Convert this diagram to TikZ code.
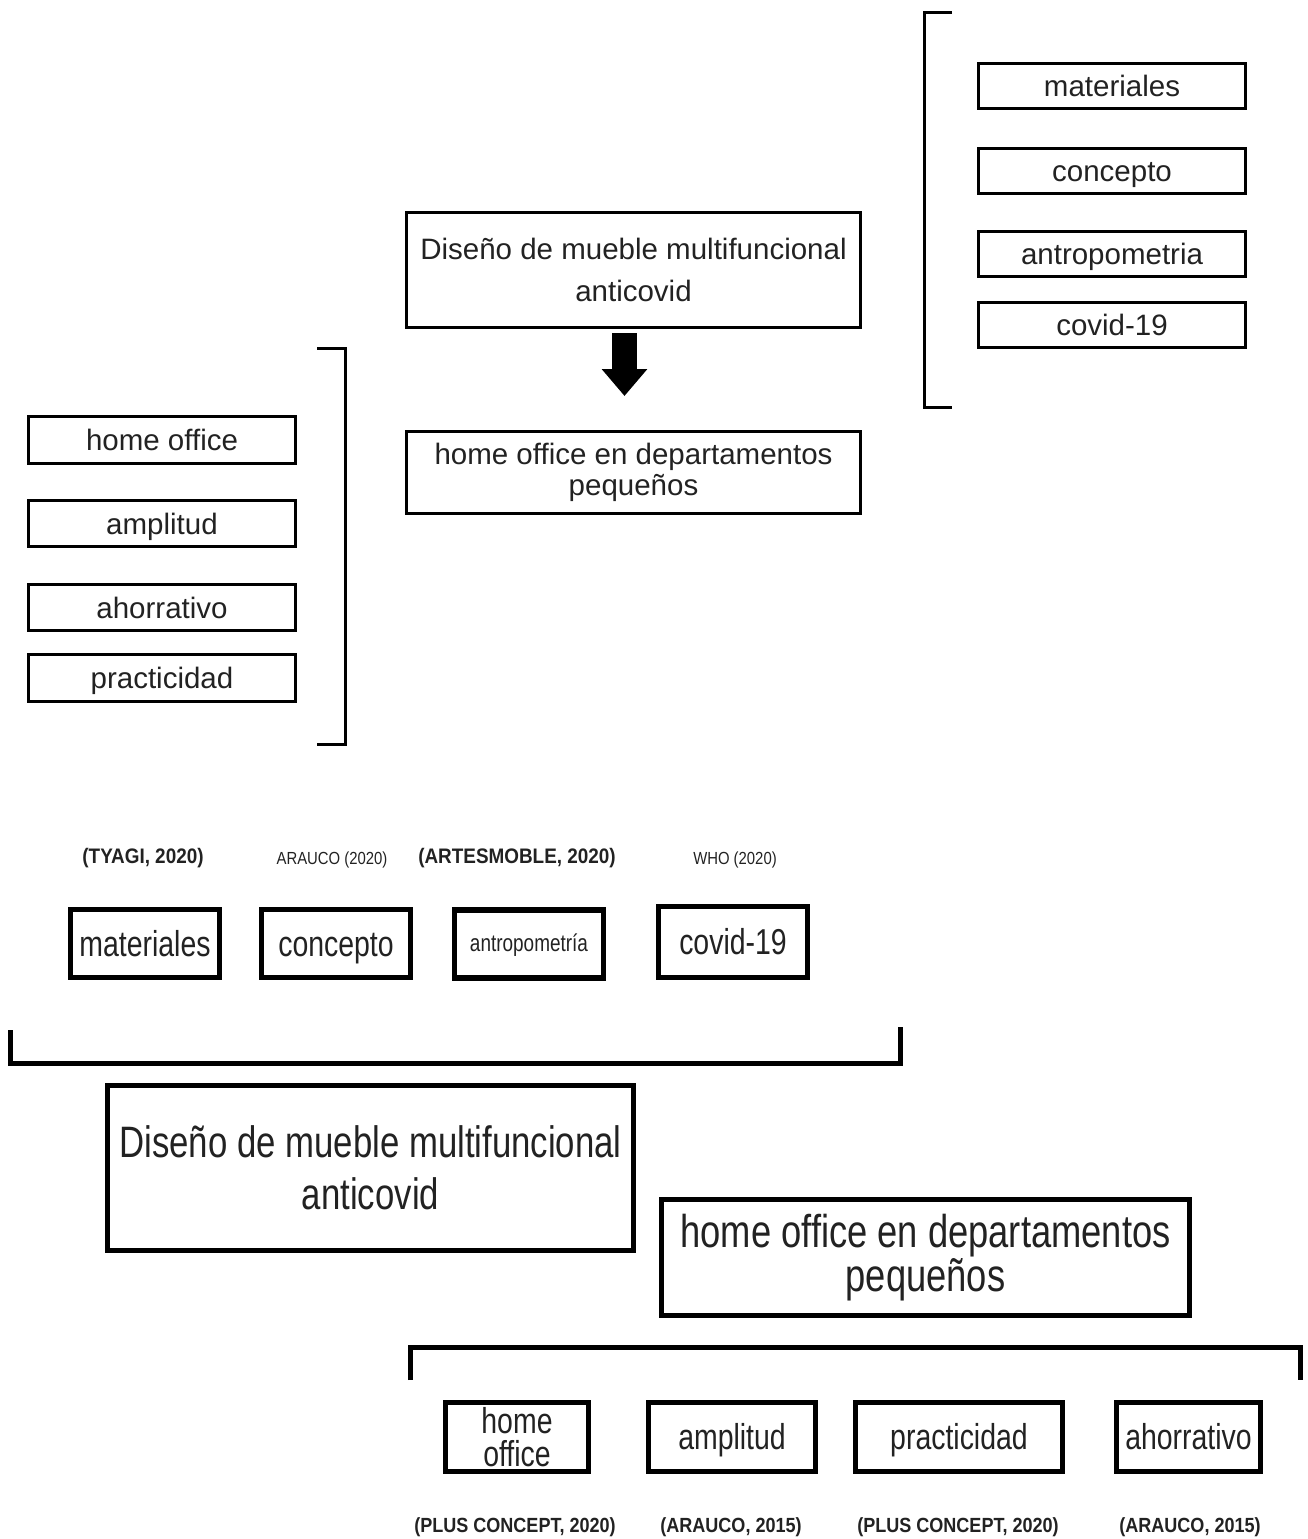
\documentclass[tikz,border=0pt]{standalone}
\usepackage{fontspec}
\setmainfont{Liberation Sans}
\newfontfamily\condA[FakeStretch=0.79]{Liberation Sans}
\newfontfamily\condB[FakeStretch=0.9]{Liberation Sans}
\newfontfamily\condC[FakeStretch=0.85]{Liberation Sans}
\newfontfamily\condD[FakeStretch=0.88]{Liberation Sans}
\usetikzlibrary{arrows.meta}
\definecolor{txt}{HTML}{222222}
\begin{document}
\begin{tikzpicture}[x=1pt,y=-1pt,
  thinbox/.style={draw=black, line width=3pt, text=txt, inner sep=0pt, align=center,
    font=\fontsize{29.5}{31}\selectfont},
  thickbox/.style={draw=black, line width=5.5pt, text=txt, inner sep=0pt, align=center,
    font=\condA\fontsize{36}{33}\selectfont},
  onethin/.style={text height=27pt, text depth=6pt},
  onethick/.style={text height=32pt, text depth=7pt},
  bigbox/.style={draw=black, line width=5pt, text=txt, inner sep=0pt, align=center},
  reflab/.style={text=txt, inner sep=0pt, font=\condB\bfseries\fontsize{21}{22}\selectfont},
  reflight/.style={text=txt, inner sep=0pt, font=\condC\fontsize{17.5}{18}\selectfont},
  botlab/.style={text=txt, inner sep=0pt, font=\condD\bfseries\fontsize{20.5}{22}\selectfont},
  brk/.style={draw=black, line width=3pt},
  brkthick/.style={draw=black, line width=5pt}]
\useasboundingbox (0,0) rectangle (1307,1539);

% ---- top right list ----
\draw[brk] (952,12) -- (924,12) -- (924,407) -- (952,407);
\node[thinbox, onethin, minimum width=267pt, minimum height=45pt] (tr1) at (1112,86) {materiales};
\node[thinbox, onethin, minimum width=267pt, minimum height=45pt] (tr2) at (1112,170.5) {concepto};
\node[thinbox, onethin, minimum width=267pt, minimum height=45pt] (tr3) at (1112,253.5) {antropometria};
\node[thinbox, onethin, minimum width=267pt, minimum height=45pt] (tr4) at (1112,325) {covid-19};

% ---- centre ----
\node[thinbox, minimum width=454pt, minimum height=115pt,
      font=\fontsize{29.5}{42}\selectfont] (c1) at (633.5,270)
      {Diseño de mueble multifuncional\\anticovid};
\node[thinbox, minimum width=454pt, minimum height=82pt,
      font=\fontsize{29.5}{31}\selectfont] (c2) at (633.5,472.5)
      {home office en departamentos\\pequeños};
\draw[line width=25pt, -{Triangle[width=44pt,length=27pt]}, shorten <=4pt, shorten >=34pt]
  ([xshift=-9pt]c1.south) -- ([xshift=-9pt]c2.north);

% ---- left list ----
\draw[brk] (317,348) -- (345,348) -- (345,744) -- (317,744);
\node[thinbox, onethin, minimum width=267pt, minimum height=47pt] (l1) at (162,440) {home office};
\node[thinbox, onethin, minimum width=267pt, minimum height=46pt] (l2) at (162,523.5) {amplitud};
\node[thinbox, onethin, minimum width=267pt, minimum height=46pt] (l3) at (162,607.5) {ahorrativo};
\node[thinbox, onethin, minimum width=267pt, minimum height=47pt] (l4) at (162,678) {practicidad};

% ---- middle row ----
\node[reflab] (r1) at (143,858) {(TYAGI, 2020)};
\node[reflight] (r2) at (332,860) {ARAUCO (2020)};
\node[reflab] (r3) at (517,858) {(ARTESMOBLE, 2020)};
\node[reflight] (r4) at (735,860) {WHO (2020)};
\node[thickbox, onethick, minimum width=149pt, minimum height=68pt] (m1) at (145,943.5) {materiales};
\node[thickbox, onethick, minimum width=149pt, minimum height=68pt] (m2) at (336,943.5) {concepto};
\node[thickbox, minimum width=149pt, minimum height=68pt, text height=19pt, text depth=5pt,
      font=\condA\fontsize{24}{26}\selectfont] (m3) at (529,944) {antropometría};
\node[thickbox, onethick, minimum width=149pt, minimum height=71pt] (m4) at (733,942) {covid-19};
\draw[brkthick] (10,1030) -- (10,1063) -- (900,1063) -- (900,1027);

% ---- big boxes ----
\node[bigbox, minimum width=526pt, minimum height=165pt,
      font=\condA\fontsize{44}{52}\selectfont] (b1) at (370.5,1168)
      {Diseño de mueble multifuncional\\anticovid};
\node[bigbox, minimum width=528pt, minimum height=116pt,
      font=\condA\fontsize{46}{42}\selectfont] (b2) at (925.5,1257.5)
      {home office en departamentos\\pequeños};

% ---- bottom row ----
\draw[brkthick] (410,1380) -- (410,1347) -- (1300,1347) -- (1300,1380);
\node[thickbox, minimum width=143pt, minimum height=69pt] (n1) at (517,1437) {home\\office};
\node[thickbox, onethick, minimum width=167pt, minimum height=69pt] (n2) at (732,1437) {amplitud};
\node[thickbox, onethick, minimum width=207pt, minimum height=69pt] (n3) at (959,1437) {practicidad};
\node[thickbox, onethick, minimum width=144pt, minimum height=69pt] (n4) at (1188.5,1437) {ahorrativo};
\node[botlab] (q1) at (515,1527) {(PLUS CONCEPT, 2020)};
\node[botlab] (q2) at (731,1527) {(ARAUCO, 2015)};
\node[botlab] (q3) at (958,1527) {(PLUS CONCEPT, 2020)};
\node[botlab] (q4) at (1190,1527) {(ARAUCO, 2015)};
\end{tikzpicture}
\end{document}
